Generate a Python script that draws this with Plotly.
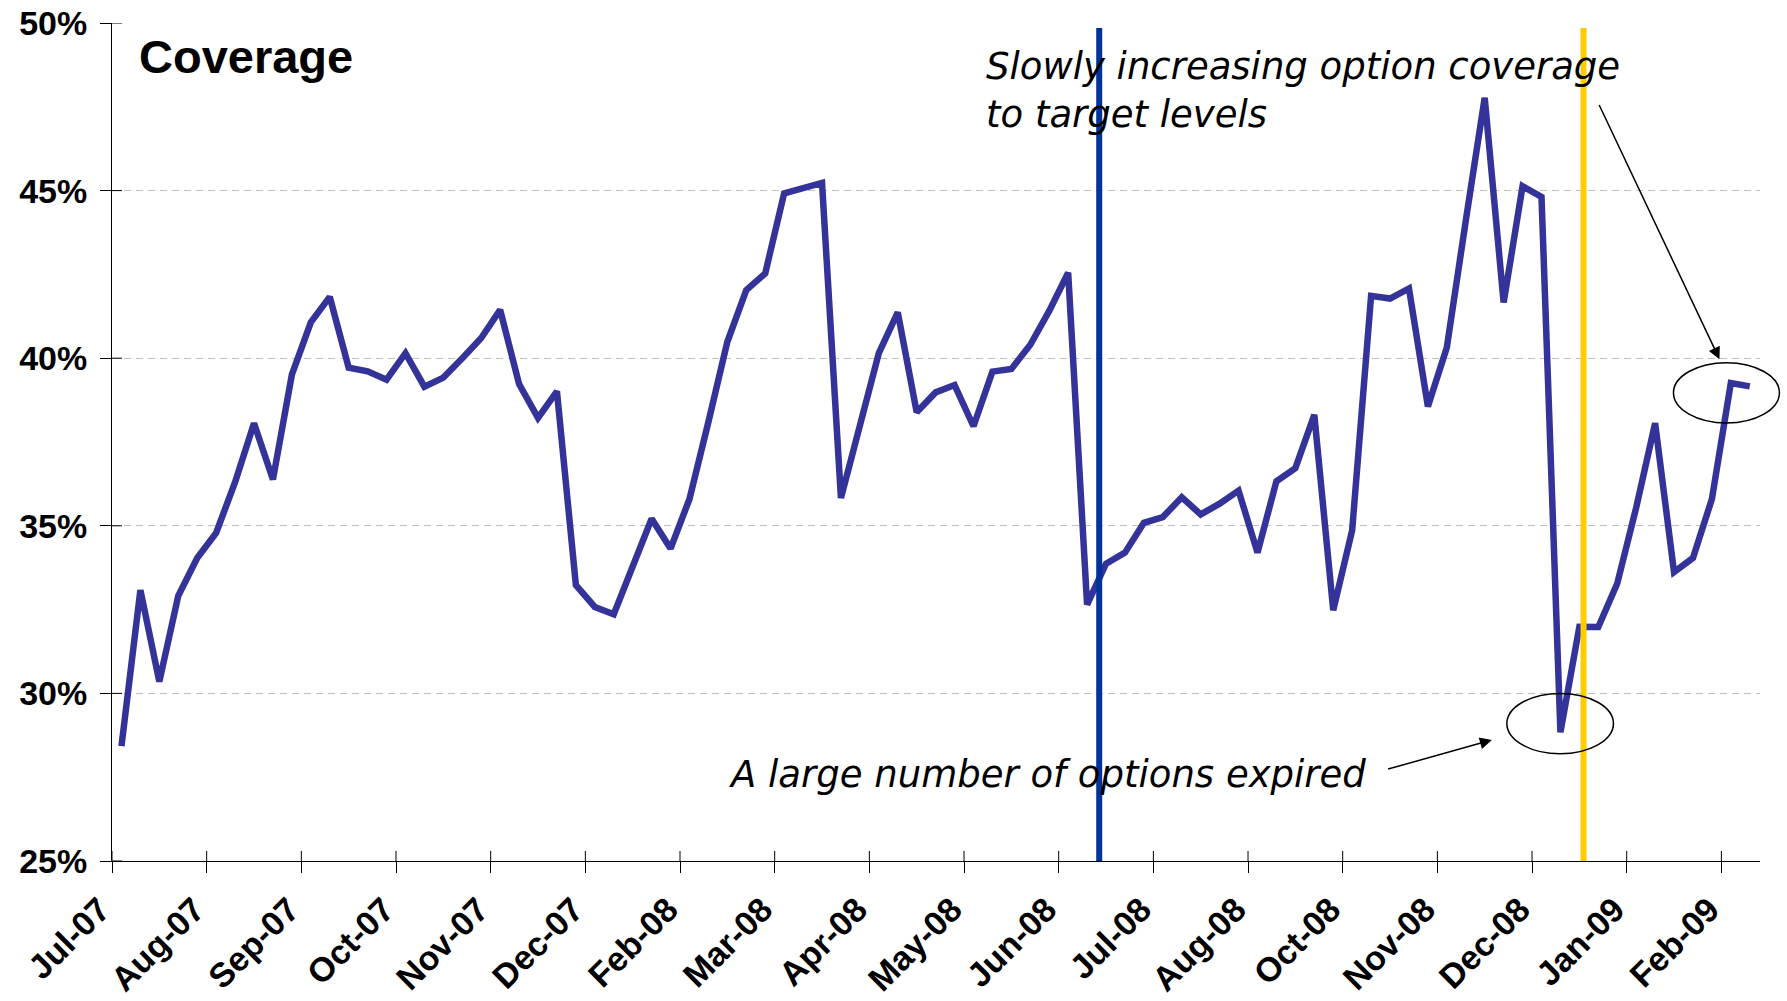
import plotly.graph_objects as go

# ---- data ----
coverage = [
    28.43, 33.08, 30.35, 32.91, 34.04, 34.79, 36.30, 38.06, 36.38, 39.51,
    41.07, 41.83, 39.72, 39.61, 39.36, 40.15, 39.15, 39.42, 40.00, 40.60,
    41.44, 39.23, 38.22, 39.01, 33.23, 32.58, 32.36, 33.79, 35.21, 34.32,
    35.80, 38.10, 40.49, 42.03, 42.53, 44.92, 45.08, 45.23, 35.83, 37.99,
    40.15, 41.37, 38.39, 38.98, 39.20, 37.97, 39.60, 39.68, 40.40, 41.41,
    42.55, 32.65, 33.87, 34.20, 35.09, 35.26, 35.85, 35.34, 35.66, 36.05,
    34.20, 36.33, 36.72, 38.31, 32.48, 34.87, 41.86, 41.78, 42.08, 38.56,
    40.32, 44.10, 47.77, 41.66, 45.13, 44.81, 28.84, 31.99, 31.98, 33.28,
    35.54, 38.06, 33.62, 34.04, 35.80, 39.26, 39.16,
]
week_index = list(range(len(coverage)))

month_labels = ["Jul-07", "Aug-07", "Sep-07", "Oct-07", "Nov-07", "Dec-07",
                "Feb-08", "Mar-08", "Apr-08", "May-08", "Jun-08", "Jul-08",
                "Aug-08", "Oct-08", "Nov-08", "Dec-08", "Jan-09", "Feb-09"]
month_tick_pos = [-0.5 + 5 * k for k in range(len(month_labels))]

y_ticks = [25, 30, 35, 40, 45, 50]
y_tick_text = [f"{v}%" for v in y_ticks]

event_blue_x = 51.64
event_yellow_x = 77.22

fig = go.Figure()
fig.add_trace(go.Scatter(
    x=week_index, y=coverage, mode="lines",
    line=dict(color="#333399", width=6.5),
    hoverinfo="skip",
))

y_tick_font = dict(family="Liberation Sans, Arial, sans-serif", size=34, color="black", weight="bold")
x_tick_font = dict(family="Liberation Sans, Arial, sans-serif", size=34, color="black", weight="bold")

shapes = []
# inner halves of the cross-style tick marks
for v in y_ticks:
    shapes.append(dict(type="line", xref="x", yref="y", xsizemode="pixel", xanchor=-0.5,
                       x0=0, x1=10, y0=v, y1=v, line=dict(color="black", width=1)))
for v in month_tick_pos:
    shapes.append(dict(type="line", xref="x", yref="y", ysizemode="pixel", yanchor=25,
                       y0=0, y1=10, x0=v, x1=v, line=dict(color="black", width=1)))
# event lines
shapes.append(dict(type="line", xref="x", yref="y", x0=event_blue_x, x1=event_blue_x,
                   y0=25, y1=49.85, line=dict(color="#003399", width=6)))
shapes.append(dict(type="line", xref="x", yref="y", x0=event_yellow_x, x1=event_yellow_x,
                   y0=25, y1=49.85, line=dict(color="#FFCC00", width=6)))
# ellipses
shapes.append(dict(type="circle", xref="x", yref="y", x0=73.17, x1=78.8, y0=28.2, y1=30.0,
                   line=dict(color="black", width=1.5)))
shapes.append(dict(type="circle", xref="paper", yref="paper", x0=0.9475, x1=1.0118,
                   y0=0.5227, y1=0.5947, line=dict(color="black", width=1.5)))

annotations = [
    dict(xref="paper", yref="paper", x=0.0153, y=0.96, xanchor="left", yanchor="middle",
         text="<b>Coverage</b>", showarrow=False,
         font=dict(family="Liberation Sans, Arial, sans-serif", size=47, color="black")),
    dict(xref="x", yref="y", x=45.53, y=48.0, xanchor="left", yanchor="middle", align="left",
         text="<i>Slowly increasing option coverage<br>to target levels</i>", showarrow=False,
         font=dict(family="DejaVu Sans, Verdana, sans-serif", size=37, color="black")),
    dict(xref="x", yref="y", x=31.99, y=27.58, xanchor="left", yanchor="middle",
         text="<i>A large number of options expired</i>", showarrow=False,
         font=dict(family="DejaVu Sans, Verdana, sans-serif", size=37, color="black")),
    dict(xref="x", yref="y", axref="x", ayref="y", x=72.38, y=28.61, ax=66.82, ay=27.73,
         text="", showarrow=True, arrowhead=2, arrowsize=1.6, arrowwidth=1.5,
         arrowcolor="black", standoff=0),
    dict(xref="x", yref="y", axref="x", ayref="y", x=84.40, y=39.97, ax=78.01, ay=47.60,
         text="", showarrow=True, arrowhead=2, arrowsize=1.6, arrowwidth=1.5,
         arrowcolor="black", standoff=0),
]

fig.update_layout(
    width=1787, height=1001,
    margin=dict(l=112, r=27, t=23, b=140),
    paper_bgcolor="white", plot_bgcolor="white",
    showlegend=False,
    shapes=shapes,
    annotations=annotations,
    xaxis=dict(
        range=[-0.5, 86.54], showgrid=False, zeroline=False, automargin=False,
        showline=True, linecolor="black", linewidth=1,
        ticks="outside", ticklen=11, tickcolor="black", tickwidth=1,
        tickmode="array", tickvals=month_tick_pos, ticktext=month_labels,
        tickangle=-45, tickfont=x_tick_font, ticklabelshift=-12, ticklabelstandoff=3,
    ),
    yaxis=dict(
        range=[25, 50], zeroline=False, automargin=False,
        showgrid=True, gridcolor="#C0C0C0", gridwidth=1, griddash="7px,5px",
        showline=True, linecolor="black", linewidth=1,
        ticks="outside", ticklen=11, tickcolor="black", tickwidth=1,
        tickmode="array", tickvals=y_ticks, ticktext=y_tick_text,
        tickfont=y_tick_font, ticklabelstandoff=6,
    ),
)

fig.write_html("out.html")
